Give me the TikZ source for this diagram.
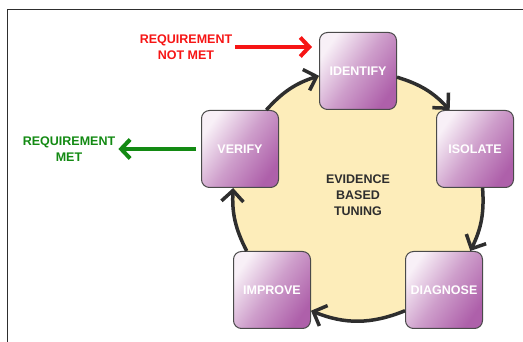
\documentclass[tikz,border=0pt]{standalone}
\usepackage{fontspec}
\setmainfont{Liberation Sans}
\usetikzlibrary{arrows.meta}
\definecolor{boxlight}{HTML}{F8F0F7}
\definecolor{boxmid}{HTML}{CE9ECB}
\definecolor{boxdark}{HTML}{AE60AA}
\definecolor{boxedge}{HTML}{4A4A4A}
\definecolor{cyccol}{HTML}{2E2E2E}
\definecolor{discfill}{HTML}{FDEDBA}
\definecolor{redtxt}{HTML}{F61515}
\definecolor{greentxt}{HTML}{138A13}
\begin{document}
\begin{tikzpicture}[x=1pt,y=1pt,
  stage/.style={draw=boxedge, line width=1pt, rounded corners=8pt,
    minimum width=77pt, minimum height=77pt, inner sep=0pt,
    top color=boxlight, bottom color=boxdark, middle color=boxmid, shading angle=55,
    text=white, font=\bfseries\fontsize{12.5}{15}\selectfont},
  cyc/.style={draw=cyccol, line width=3.5pt, -{Straight Barb[length=11pt,width=22pt]}},
  lbl/.style={font=\bfseries\fontsize{12.5}{16}\selectfont, align=center, inner sep=3pt},
  sidearrow/.style={line width=4pt, -{Straight Barb[length=9pt,width=19pt]}}
]
\useasboundingbox (0,0) rectangle (523,342);
% frame
\draw[cyccol, line width=1pt] (7,0) -- (7,332) -- (523,332);
% disc
\coordinate (C) at (358,147);
\fill[discfill] (C) circle[radius=125];
% stages
\node[stage] (identify) at (358,271) {IDENTIFY};
\node[stage] (isolate) at (475,193) {ISOLATE};
\node[stage] (diagnose) at (444,52) {DIAGNOSE};
\node[stage] (improve) at (272,52) {IMPROVE};
\node[stage] (verify) at (240,193) {VERIFY};
\node[font=\bfseries\fontsize{12.5}{16}\selectfont, text=cyccol, align=center] (ebt) at (C) {EVIDENCE\\BASED\\TUNING};
% cycle
\draw[cyc] (identify.-9) to[bend left=15] (isolate.123);
\draw[cyc] (isolate.-79) to[bend left=15] (diagnose.56);
\draw[cyc] (diagnose.208) to[bend left=22] (improve.-28);
\draw[cyc] (improve.123) to[bend left=15] (verify.260);
\draw[cyc] (verify.56) to[bend left=15] (identify.187);
% side labels
\node[lbl, text=redtxt] (notmet) at (186,295) {REQUIREMENT\\NOT MET};
\node[lbl, text=greentxt] (met) at (69,193) {REQUIREMENT\\MET};
\draw[sidearrow, redtxt] (notmet.east) -- ([xshift=-7pt]notmet.east -| identify.west);
\draw[sidearrow, greentxt, shorten <=5pt] (verify.west) -- (met.east);
\end{tikzpicture}
\end{document}
